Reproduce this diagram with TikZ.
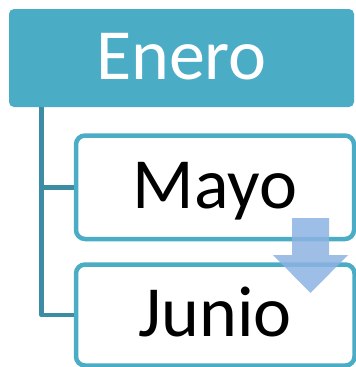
\documentclass[tikz,border=0pt]{standalone}
\usepackage{fontspec}
\setmainfont{Carlito}
\definecolor{accentfill}{HTML}{4BACC6}
\definecolor{connline}{HTML}{3C8DA3}
\definecolor{arrowblue}{HTML}{8DB3E2}
\begin{document}
\begin{tikzpicture}[x=1pt,y=-1pt,
  topbox/.style={fill=accentfill, draw=none, rounded corners=5pt, inner sep=0pt,
    text=white, font=\fontsize{72}{80}\selectfont, text height=42pt, text depth=0pt},
  childbox/.style={fill=white, draw=accentfill, line width=4.5pt, rounded corners=9pt, inner sep=0pt,
    text=black, font=\fontsize{72}{80}\selectfont, text height=42pt, text depth=0pt},
  conn/.style={draw=connline, line width=4.5pt, line join=round},
  arrowshape/.style={fill=arrowblue, fill opacity=0.85}]
\useasboundingbox (0,0) rectangle (356,367);
\clip (0,0) rectangle (356,367);
\node[topbox, minimum width=345pt, minimum height=98pt] (enero) at (181.5,58) {Enero};
\node[childbox, minimum width=278pt, minimum height=103.5pt] (mayo) at (215,187.25) {Mayo};
\node[childbox, minimum width=278.5pt, minimum height=101pt] (junio) at (215.25,315) {Junio};
\coordinate (trunk) at (41.5,107);
\draw[conn] (trunk) |- (junio.west);
\draw[conn] (trunk |- mayo.west) -- (mayo.west);
\fill[arrowshape] (292,218) -- (329,218) -- (329,255) -- (348,255) -- (310.5,293) -- (273,255) -- (292,255) -- cycle;
\end{tikzpicture}
\end{document}
